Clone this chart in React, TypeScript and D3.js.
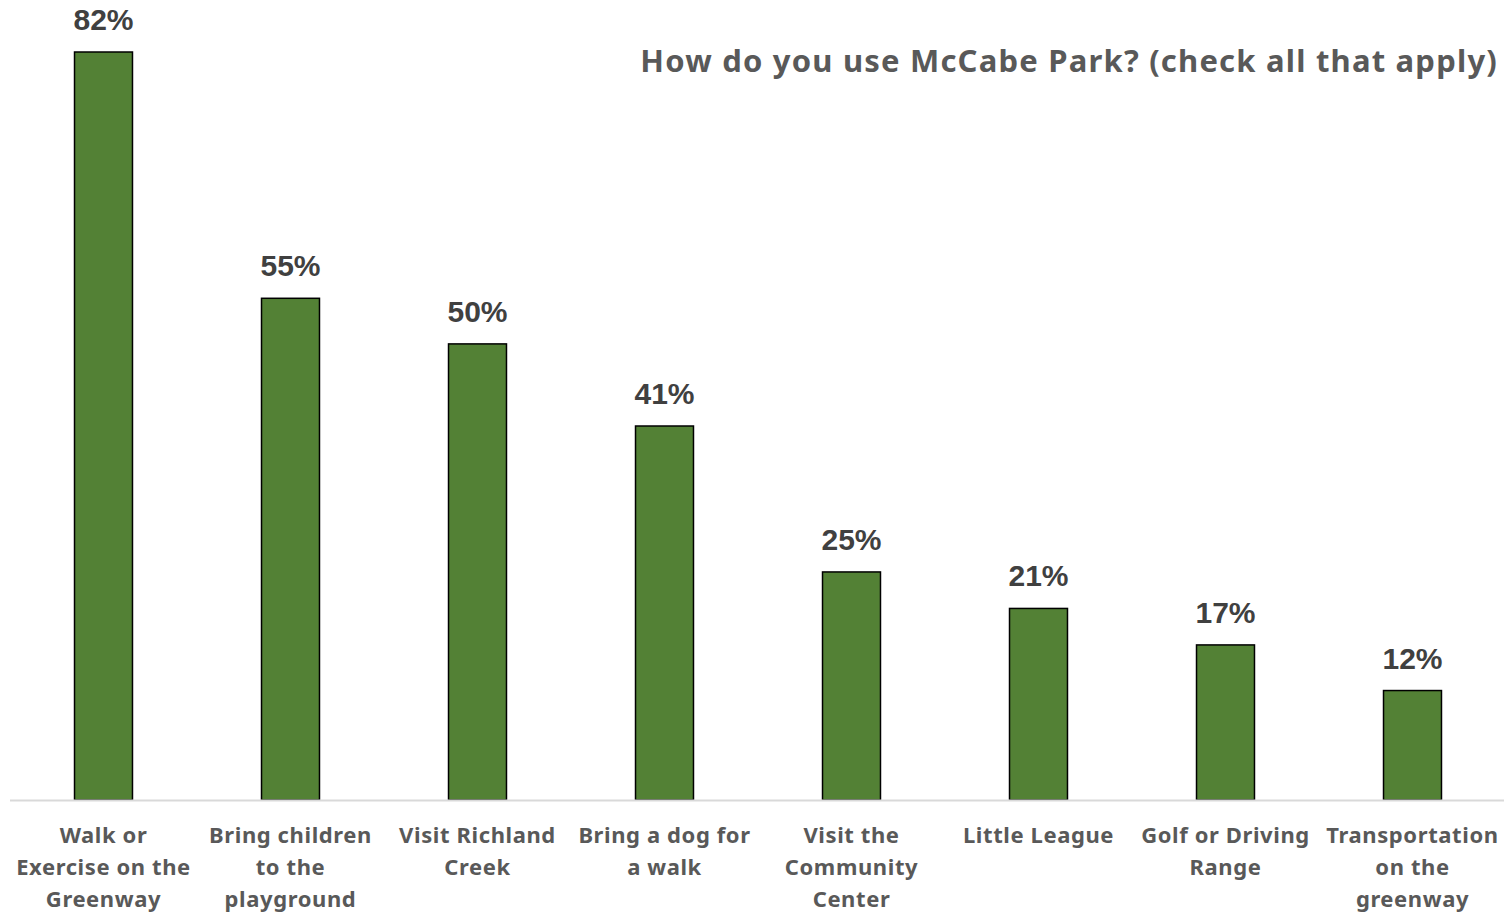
import { useEffect, useRef } from "react";
import * as d3 from "d3";

const categories = [
  ["Walk or", "Exercise on the", "Greenway"],
  ["Bring children", "to the", "playground"],
  ["Visit Richland", "Creek"],
  ["Bring a dog for", "a walk"],
  ["Visit the", "Community", "Center"],
  ["Little League"],
  ["Golf or Driving", "Range"],
  ["Transportation", "on the", "greenway"],
];
const values = [82, 55, 50, 41, 25, 21, 17, 12];
const title = "How do you use McCabe Park? (check all that apply)";

export default function App() {
  const ref = useRef<SVGSVGElement>(null);

  useEffect(() => {
    if (!ref.current) return;
    const W = 1504;
    const H = 914;
    const svg = d3.select(ref.current);
    svg.selectAll("*").remove();

    const baseline = 800;
    const labelFont = "'Noto Sans', 'Open Sans', sans-serif";

    const x = d3
      .scaleBand<number>()
      .domain(d3.range(values.length))
      .range([10, 1506])
      .paddingInner(0.69)
      .paddingOuter(0.345);

    const y = d3.scaleLinear().domain([0, 82]).range([baseline, 52]);

    // bars
    svg
      .selectAll("rect.bar")
      .data(values)
      .enter()
      .append("rect")
      .attr("class", "bar")
      .attr("x", (_, i) => x(i) || 0)
      .attr("y", (d) => y(d))
      .attr("width", x.bandwidth())
      .attr("height", (d) => baseline - y(d))
      .attr("fill", "#538135")
      .attr("stroke", "#000")
      .attr("stroke-width", 1.5);

    // axis line
    svg
      .append("line")
      .attr("x1", 10)
      .attr("x2", W)
      .attr("y1", baseline + 0.5)
      .attr("y2", baseline + 0.5)
      .attr("stroke", "#d9d9d9")
      .attr("stroke-width", 2);

    // value labels
    svg
      .selectAll("text.value")
      .data(values)
      .enter()
      .append("text")
      .attr("class", "value")
      .attr("x", (_, i) => (x(i) || 0) + x.bandwidth() / 2)
      .attr("y", (d) => y(d) - 22)
      .attr("text-anchor", "middle")
      .attr("fill", "#404040")
      .style("font-family", "'Liberation Sans', Arial, sans-serif")
      .style("font-weight", "bold")
      .style("font-size", "30px")
      .text((d) => `${d}%`);

    // category labels
    const cats = svg
      .selectAll("text.cat")
      .data(categories)
      .enter()
      .append("text")
      .attr("class", "cat")
      .attr("text-anchor", "middle")
      .attr("fill", "#595959")
      .style("font-family", labelFont)
      .style("font-weight", "bold")
      .style("font-size", "22px")
      .style("letter-spacing", "0.6px");

    cats
      .selectAll("tspan")
      .data((d, i) => d.map((line) => ({ line, i })))
      .enter()
      .append("tspan")
      .attr("x", (d) => (x(d.i) || 0) + x.bandwidth() / 2)
      .attr("y", (_, j) => 843 + j * 32)
      .text((d) => d.line);

    // title
    svg
      .append("text")
      .attr("x", 1498)
      .attr("y", 72)
      .attr("text-anchor", "end")
      .attr("fill", "#595959")
      .style("font-family", labelFont)
      .style("font-weight", "bold")
      .style("font-size", "31px")
      .style("letter-spacing", "1.2px")
      .text(title);

    svg.attr("width", W).attr("height", H);
  }, []);

  return (
    <svg
      ref={ref}
      width={1504}
      height={914}
      style={{ position: "absolute", left: 0, top: 0, background: "#fff" }}
    />
  );
}
